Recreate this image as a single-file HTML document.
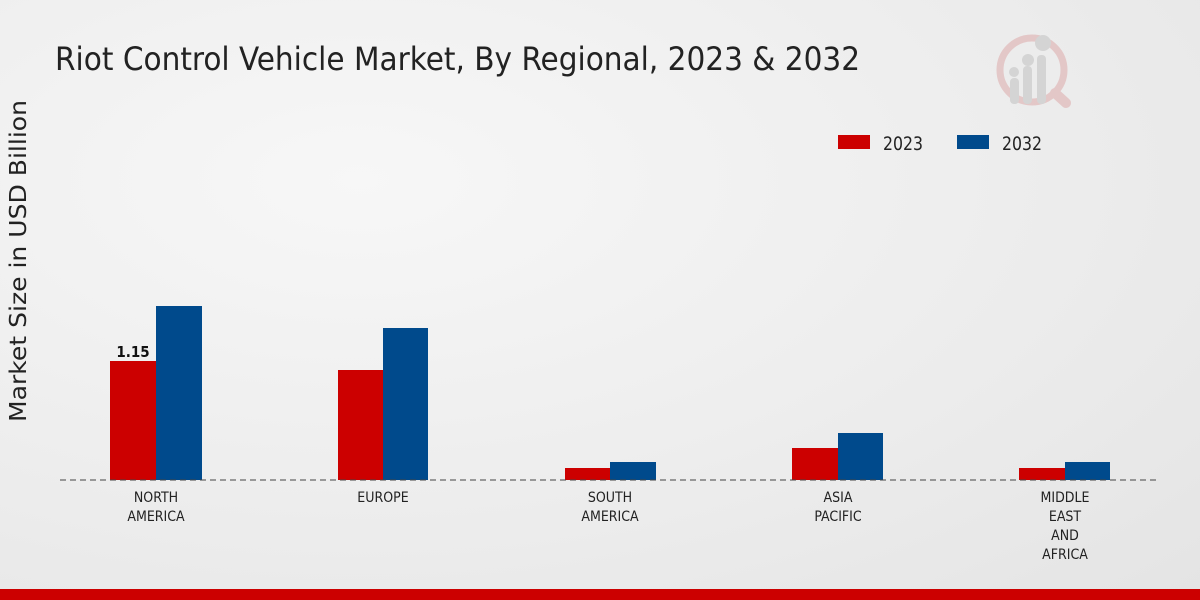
<!DOCTYPE html>
<html><head><meta charset="utf-8"><style>
body{margin:0;width:1200px;height:600px;overflow:hidden;background:radial-gradient(ellipse at 30% 30%,#f7f7f7 0%,#ececec 60%,#e4e4e4 100%);font-family:"DejaVu Sans Condensed","DejaVu Sans","Liberation Sans",sans-serif;}
</style></head><body>
<svg width="1200" height="600" xmlns="http://www.w3.org/2000/svg" style="position:absolute;left:0;top:0">
<text x="55" y="70" font-size="32" fill="#222" font-family="DejaVu Sans Condensed, DejaVu Sans, sans-serif" textLength="805" lengthAdjust="spacingAndGlyphs">Riot Control Vehicle Market, By Regional, 2023 &amp; 2032</text>
<g opacity="0.9">
<circle cx="1032" cy="70" r="32" fill="none" stroke="#e3c4c4" stroke-width="7"/>
<line x1="1055" y1="93" x2="1066" y2="103" stroke="#e3c4c4" stroke-width="10" stroke-linecap="round"/>
<rect x="1010" y="78" width="9" height="26" rx="4" fill="#d2d2d2"/>
<rect x="1023" y="66" width="9" height="38" rx="4" fill="#d2d2d2"/>
<rect x="1037" y="55" width="9" height="49" rx="4" fill="#d2d2d2"/>
<circle cx="1014" cy="72" r="5" fill="#d2d2d2"/><circle cx="1028" cy="60" r="6" fill="#d2d2d2"/><circle cx="1043" cy="43" r="8" fill="#d2d2d2"/>
</g>
<text x="26" y="261" font-size="23" fill="#222" transform="rotate(-90 26 261)" text-anchor="middle" font-family="DejaVu Sans, sans-serif" textLength="322" lengthAdjust="spacingAndGlyphs">Market Size in USD Billion</text>
<rect x="838" y="135" width="32" height="14" fill="#cc0000"/>
<text x="883" y="150" font-size="19" fill="#222" textLength="40" lengthAdjust="spacingAndGlyphs">2023</text>
<rect x="957" y="135" width="32" height="14" fill="#004a8c"/>
<text x="1002" y="150" font-size="19" fill="#222" textLength="40" lengthAdjust="spacingAndGlyphs">2032</text>
<g fill="#cc0000">
<rect x="110" y="361" width="46" height="119"/>
<rect x="338" y="370" width="45" height="110"/>
<rect x="565" y="468" width="45" height="12"/>
<rect x="792" y="448" width="46" height="32"/>
<rect x="1019" y="468" width="46" height="12"/>
</g>
<g fill="#004a8c">
<rect x="156" y="306" width="46" height="174"/>
<rect x="383" y="328" width="45" height="152"/>
<rect x="610" y="462" width="46" height="18"/>
<rect x="838" y="433" width="45" height="47"/>
<rect x="1065" y="462" width="45" height="18"/>
</g>
<line x1="60" y1="480" x2="1160" y2="480" stroke="#444" stroke-dasharray="6,4" stroke-width="1"/>
<text x="133" y="357" font-size="15" font-weight="bold" fill="#111" text-anchor="middle">1.15</text>
<g font-size="14" fill="#222" text-anchor="middle">
<text x="156" y="502">NORTH</text><text x="156" y="521">AMERICA</text>
<text x="383" y="502">EUROPE</text>
<text x="610" y="502">SOUTH</text><text x="610" y="521">AMERICA</text>
<text x="838" y="502">ASIA</text><text x="838" y="521">PACIFIC</text>
<text x="1065" y="502">MIDDLE</text><text x="1065" y="521">EAST</text><text x="1065" y="540">AND</text><text x="1065" y="559">AFRICA</text>
</g>
<rect x="0" y="589" width="1200" height="11" fill="#cc0000"/>
</svg>
</body></html>
